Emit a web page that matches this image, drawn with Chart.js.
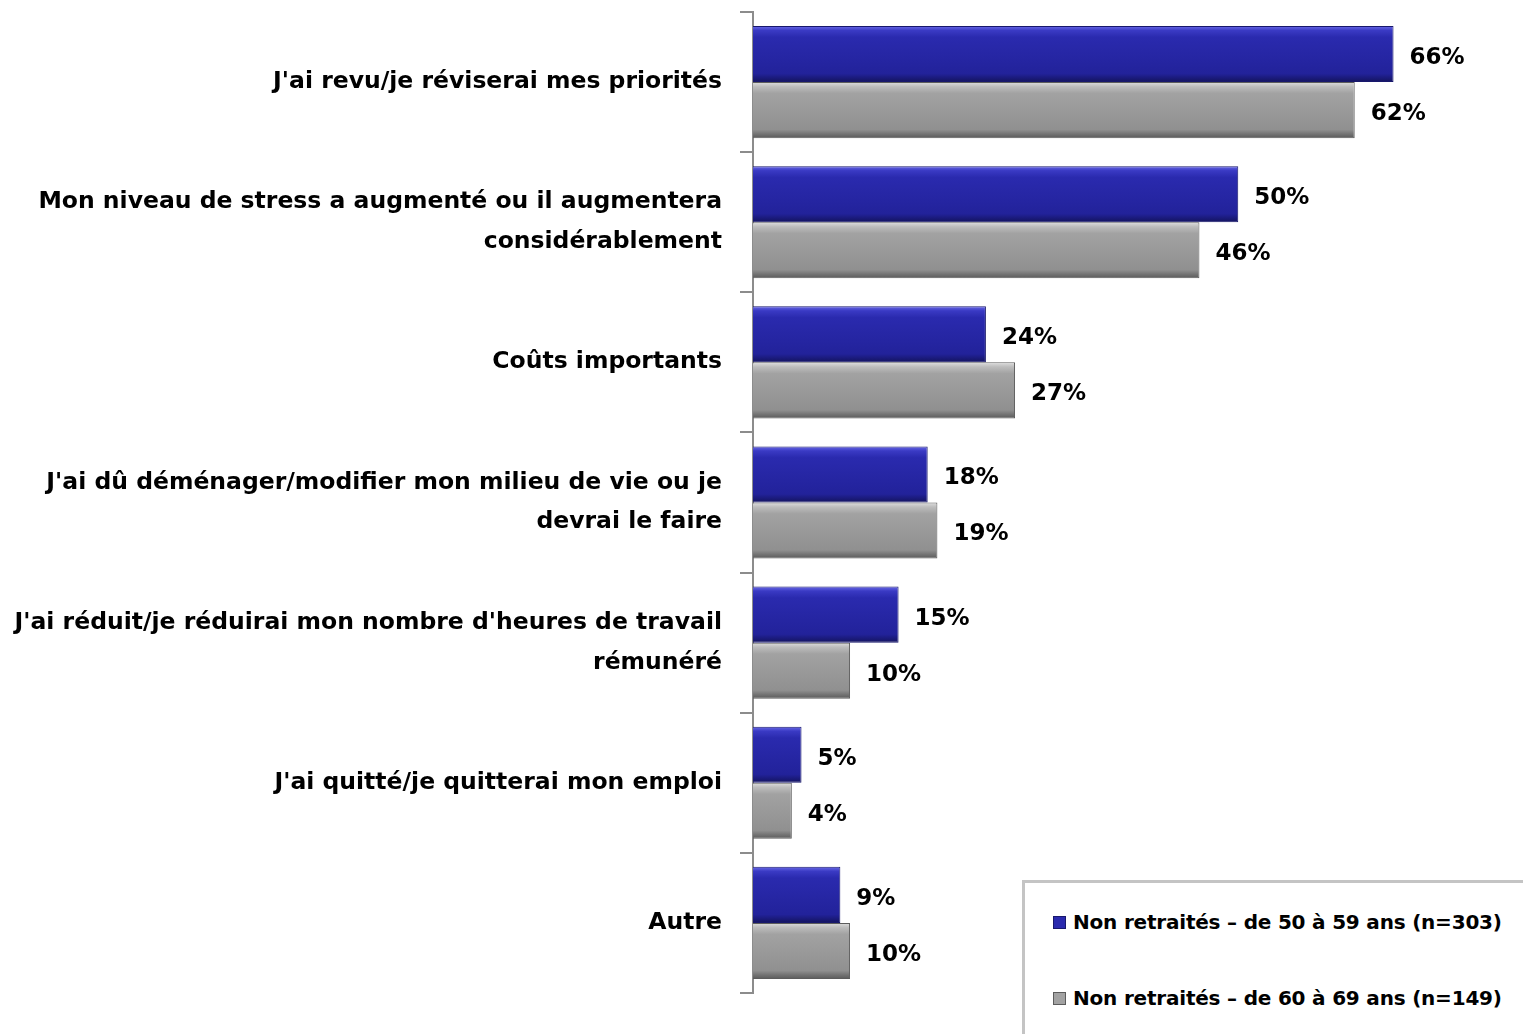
<!DOCTYPE html>
<html lang="fr">
<head>
<meta charset="utf-8">
<title>Changements</title>
<script src="https://cdn.jsdelivr.net/npm/chart.js@4/dist/chart.umd.min.js"></script>
<style>
  html, body { margin: 0; padding: 0; background: #fff; }
  #wrap { position: relative; width: 1523px; height: 1034px; }
  #legend {
    position: absolute; left: 1022px; top: 880px; width: 520px; height: 170px;
    border: 3px solid #c4c4c4; box-sizing: border-box; background: #fff;
    font-family: "DejaVu Sans", sans-serif; font-weight: bold; font-size: 20px;
    letter-spacing: -0.2px; color: #000;
  }
  #legend div { position: absolute; left: 28px; display: flex; align-items: center; white-space: nowrap; }
  #legend span.box { display: inline-block; width: 13px; height: 13px; margin-right: 7px; box-sizing: border-box; }
</style>
</head>
<body>
<div id="wrap">
  <canvas id="chart" width="1523" height="1034"></canvas>
  <div id="legend"></div>
</div>
<script>
"use strict";

// categories, top to bottom
const categories = [
  "J'ai revu/je réviserai mes priorités",
  ["Mon niveau de stress a augmenté ou il augmentera", "considérablement"],
  "Coûts importants",
  ["J'ai dû déménager/modifier mon milieu de vie ou je", "devrai le faire"],
  ["J'ai réduit/je réduirai mon nombre d'heures de travail", "rémunéré"],
  "J'ai quitté/je quitterai mon emploi",
  "Autre",
];

const seriesNames = [
  "Non retraités – de 50 à 59 ans (n=303)",
  "Non retraités – de 60 à 69 ans (n=149)",
];

const values5059 = [66, 50, 24, 18, 15, 5, 9];
const values6069 = [62, 46, 27, 19, 10, 4, 10];

// bevel-ish vertical gradient for one bar, placed from the y scale
const bevel = (stops, fallback) => (context) => {
  const chart = context.chart;
  const y = chart.scales.y;
  if (context.type !== "data" || !y || !chart.chartArea) return fallback;
  const band = (y.bottom - y.top) / categories.length;
  const thick = band * 0.8 / 2;
  const c = y.getPixelForValue(context.dataIndex);
  const top = context.datasetIndex === 0 ? c - thick : c;
  const g = chart.ctx.createLinearGradient(0, top, 0, top + thick);
  stops.forEach(([p, col]) => g.addColorStop(p, col));
  return g;
};

const blueStops = [[0, "#6a6ae6"], [0.08, "#3a3ac4"], [0.2, "#2a2aae"], [0.85, "#22229a"], [0.93, "#1a1a7a"], [1, "#14145e"]];
const grayStops = [[0, "#dedede"], [0.08, "#bdbdbd"], [0.2, "#a2a2a2"], [0.85, "#909090"], [0.93, "#727272"], [1, "#5a5a5a"]];

// draws the "66%" labels at the end of each bar
const valueLabels = {
  id: "valueLabels",
  afterDatasetsDraw(chart) {
    const ctx = chart.ctx;
    ctx.save();
    ctx.font = "bold 23px 'DejaVu Sans', sans-serif";
    ctx.fillStyle = "#000";
    ctx.textAlign = "left";
    ctx.textBaseline = "middle";
    chart.data.datasets.forEach((ds, i) => {
      const meta = chart.getDatasetMeta(i);
      meta.data.forEach((bar, j) => {
        ctx.fillText(ds.data[j] + "%", bar.x + 16, bar.y + 4);
      });
    });
    ctx.restore();
  },
};

const data = {
  labels: categories,
  datasets: [
    {
      label: seriesNames[0],
      data: values5059,
      backgroundColor: bevel(blueStops, "#2727a6"),
      borderColor: "#18186c",
      borderWidth: 1,
      categoryPercentage: 0.8,
      barPercentage: 1.0,
    },
    {
      label: seriesNames[1],
      data: values6069,
      backgroundColor: bevel(grayStops, "#9b9b9b"),
      borderColor: "#5c5c5c",
      borderWidth: 1,
      categoryPercentage: 0.8,
      barPercentage: 1.0,
    },
  ],
};

const config = {
  type: "bar",
  data: data,
  plugins: [valueLabels],
  options: {
    indexAxis: "y",
    responsive: false,
    animation: false,
    layout: { padding: { left: 0, top: 12, right: 13, bottom: 41 } },
    plugins: {
      legend: { display: false },
      tooltip: { enabled: false },
    },
    scales: {
      x: {
        display: false,
        min: 0,
        max: 78,
      },
      y: {
        afterFit(scale) {
          scale.width = 753;
          scale.paddingTop = 0;
          scale.paddingBottom = 0;
        },
        border: { display: true, color: "#8c8c8c", width: 2 },
        grid: { drawOnChartArea: false, tickLength: 13, color: "#8c8c8c", lineWidth: 2, offset: true },
        ticks: {
          padding: 18,
          color: "#000",
          font: { family: "'DejaVu Sans', sans-serif", size: 23.5, weight: "bold", lineHeight: 1.69 },
        },
      },
    },
  },
};

const canvas = document.querySelector("#chart");
const chart = new Chart(canvas, config);

// html legend built from the datasets
const legend = document.querySelector("#legend");
const tops = [27, 103];
const swatches = ["#2a2aae", "#a2a2a2"];
chart.data.datasets.forEach((ds, i) => {
  const item = document.createElement("div");
  item.style.top = tops[i] + "px";
  const box = document.createElement("span");
  box.className = "box";
  box.style.background = swatches[i];
  box.style.border = "1px solid " + ds.borderColor;
  item.appendChild(box);
  item.appendChild(document.createTextNode(ds.label));
  legend.appendChild(item);
});
</script>
</body>
</html>
